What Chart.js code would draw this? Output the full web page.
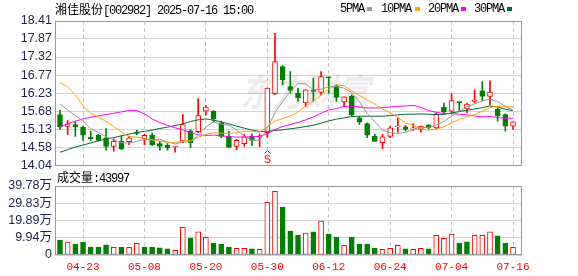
<!DOCTYPE html>
<html>
<head>
<meta charset="utf-8">
<script src="https://cdn.jsdelivr.net/npm/chart.js@4.4.1/dist/chart.umd.min.js"></script>
<style>
  html, body { margin: 0; padding: 0; background: #fff; }
  #box { position: relative; width: 578px; height: 276px; overflow: hidden; }
  #box canvas { position: absolute; left: 0; top: 0; }
  .t { position: absolute; white-space: nowrap; font: 12px/14px "Liberation Mono", monospace; letter-spacing: -1.2px; color: #000; }
  .t .c { font-family: "Noto Sans CJK SC", sans-serif; letter-spacing: 0; }
  .sq { position: absolute; width: 5px; height: 4px; }
</style>
</head>
<body>
<div id="box">
  <canvas id="kline" width="578" height="276"></canvas>
  <canvas id="vol" width="578" height="276"></canvas>
  <div class="t" style="left:55px;top:2px"><span class="c">湘佳股份</span>[002982] 2025-07-16 15:00</div>
  <div class="t" style="left:340px;top:2px">5PMA</div><div class="sq" style="left:367px;top:7px;background:#999999"></div>
  <div class="t" style="left:381px;top:2px">10PMA</div><div class="sq" style="left:415px;top:7px;background:#ffa500"></div>
  <div class="t" style="left:428px;top:2px">20PMA</div><div class="sq" style="left:461px;top:7px;background:#ff00ff"></div>
  <div class="t" style="left:474px;top:2px">30PMA</div><div class="sq" style="left:507px;top:7px;background:#006a30"></div>
  <div class="t" style="left:57px;top:170px"><span class="c">成交量</span>:43997</div>
</div>
<script>
// 日期 (交易日)
const dates = ['04-18','04-21','04-22','04-23','04-24','04-25','04-28','04-29','04-30','05-06',
  '05-07','05-08','05-09','05-12','05-13','05-14','05-15','05-16','05-19','05-20',
  '05-21','05-22','05-23','05-26','05-27','05-28','05-29','05-30','06-03','06-04',
  '06-05','06-06','06-09','06-10','06-11','06-12','06-13','06-16','06-17','06-18',
  '06-19','06-20','06-23','06-24','06-25','06-26','06-27','06-30','07-01','07-02',
  '07-03','07-04','07-07','07-08','07-09','07-10','07-11','07-14','07-15','07-16'];

// K线数据
const opens = [15.58,15.22,15.28,15.20,14.90,14.95,14.88,14.62,14.77,14.76,
  15.05,14.85,14.95,14.70,14.65,14.60,14.78,15.08,15.06,15.68,
  15.68,15.33,14.92,14.62,14.70,14.93,14.90,15.03,16.21,17.03,
  16.43,16.23,15.93,16.30,16.25,16.72,16.45,15.96,16.13,15.48,
  15.31,14.92,14.73,14.92,15.21,15.21,15.15,15.13,15.26,15.18,
  15.80,15.68,15.96,15.75,15.98,16.30,16.13,15.75,15.58,15.23];
const highs = [15.71,15.40,15.36,15.23,15.08,14.98,15.16,14.85,14.93,14.93,
  15.10,14.98,15.03,14.77,14.70,14.62,15.58,15.13,16.06,15.85,
  15.70,15.38,15.08,14.83,14.98,15.00,14.99,16.38,18.04,17.06,
  16.88,16.38,16.33,16.68,16.88,16.72,16.48,16.12,16.18,15.53,
  15.33,14.98,14.98,15.23,15.48,15.25,15.31,15.23,15.28,15.63,
  15.93,16.21,15.96,15.93,16.33,16.58,16.60,15.78,15.60,15.36];
const lows = [15.13,14.98,14.92,14.80,14.80,14.77,14.50,14.47,14.52,14.67,
  14.97,14.67,14.64,14.50,14.50,14.44,14.73,14.58,15.03,15.56,
  15.36,14.88,14.59,14.52,14.62,14.65,14.61,14.89,16.18,16.48,
  16.23,15.98,15.81,15.98,16.18,16.23,15.98,15.83,15.53,15.28,
  14.88,14.77,14.55,14.88,15.05,15.08,15.10,15.05,15.15,15.15,
  15.58,15.63,15.68,15.63,15.93,16.00,15.88,15.38,15.08,15.13];
const closes = [15.20,15.30,15.21,14.96,14.85,14.80,14.62,14.77,14.55,14.88,
  15.01,14.95,14.67,14.62,14.57,14.62,15.28,14.73,15.55,15.81,
  15.45,14.92,14.59,14.80,14.91,14.80,14.92,16.38,17.18,16.63,
  16.31,16.08,16.33,16.28,16.73,16.69,16.10,16.12,15.58,15.35,
  14.96,14.77,14.91,15.18,15.23,15.13,15.18,15.23,15.18,15.60,
  15.66,16.00,15.94,15.90,16.00,16.13,16.26,15.55,15.23,15.36];

// 成交量 (万)
const volumes = [8.65,7.5,6.3,7.5,4.6,4.6,5.8,4.4,4.6,4.4,
  6.7,4.6,4.6,4.2,3.5,2.7,16.0,9.8,13.3,10.2,
  6.9,6.3,4.6,3.8,3.8,3.5,3.3,30.4,36.7,27.6,
  13.8,11.5,12.6,13.3,19.5,12.1,10.4,5.6,10.4,6.3,
  6.3,4.0,3.3,3.9,5.6,3.5,3.3,3.8,3.5,11.3,
  9.6,12.0,6.9,7.6,11.3,11.3,13.3,11.0,6.9,4.40];

// 均线
const ma5 = [15.90,15.72,15.55,15.38,15.15,15.04,14.91,14.82,14.73,14.72,
  14.77,14.83,14.81,14.83,14.76,14.69,14.75,14.76,14.95,15.20,
  15.36,15.29,15.26,15.11,14.93,14.80,14.80,15.16,15.64,15.98,
  16.28,16.52,16.51,16.33,16.35,16.42,16.43,16.38,16.24,15.97,
  15.62,15.36,15.11,15.03,15.01,15.04,15.13,15.19,15.19,15.26,
  15.37,15.53,15.68,15.82,15.90,15.99,16.05,15.97,15.83,15.71];
const ma10 = [16.55,16.42,16.18,15.85,15.62,15.50,15.37,15.22,15.05,14.91,
  14.90,14.86,14.81,14.78,14.74,14.73,14.79,14.79,14.89,14.98,
  15.03,15.02,15.01,15.03,15.07,15.08,15.05,15.21,15.38,15.46,
  15.54,15.66,15.84,15.99,16.17,16.35,16.48,16.45,16.29,16.16,
  16.02,15.90,15.75,15.64,15.49,15.33,15.25,15.15,15.11,15.14,
  15.21,15.33,15.44,15.51,15.58,15.68,15.79,15.83,15.83,15.81];
const ma20 = [15.20,15.30,15.38,15.45,15.50,15.54,15.58,15.62,15.66,15.71,
  15.70,15.60,15.45,15.34,15.25,15.18,15.12,15.03,14.97,14.95,
  14.96,14.94,14.91,14.90,14.90,14.91,14.92,15.00,15.13,15.22,
  15.28,15.34,15.42,15.51,15.62,15.72,15.76,15.83,15.83,15.81,
  15.78,15.78,15.79,15.81,15.83,15.84,15.86,15.80,15.70,15.65,
  15.61,15.61,15.59,15.57,15.54,15.51,15.52,15.49,15.47,15.47];
const ma30 = [14.44,14.52,14.60,14.66,14.72,14.79,14.84,14.88,14.94,14.99,
  15.04,15.07,15.11,15.16,15.20,15.25,15.30,15.37,15.42,15.45,
  15.41,15.36,15.30,15.23,15.17,15.11,15.07,15.07,15.10,15.12,
  15.15,15.18,15.22,15.26,15.32,15.39,15.44,15.48,15.52,15.53,
  15.53,15.53,15.53,15.55,15.57,15.59,15.59,15.60,15.59,15.58,
  15.59,15.63,15.67,15.71,15.75,15.79,15.84,15.81,15.74,15.70];

// 刻度
const priceTicks = [14.04, 14.58, 15.13, 15.68, 16.23, 16.77, 17.32, 17.87, 18.41];
const volTicks = [0, 9.94, 19.89, 29.83, 39.78];
const dateTicks = ['04-23','05-08','05-20','05-30','06-12','06-24','07-04','07-16'];
const signalDate = '05-30';
const signalText = 'S';

const RED = '#ff0000';
const GREEN = '#008000';
const xMin = -0.65, xMax = 60.17;

const idx = dates.map((d, i) => i);
const tickIdx = dateTicks.map(d => dates.indexOf(d));
const candleUp = idx.map(i => closes[i] >= opens[i]);
const volUp = idx.map(i => i === 0 ? candleUp[0] : closes[i] >= closes[i - 1]);

function xAxis(showLabels) {
    return {
        type: 'linear', min: xMin, max: xMax, offset: false,
        afterBuildTicks: s => { s.ticks = tickIdx.map(v => ({ value: v })); },
        grid: { color: '#c8c8c8', drawTicks: false, offset: false },
        border: { display: false, dash: [4, 3] },
        ticks: {
            display: showLabels, autoSkip: false, maxRotation: 0, padding: 5,
            color: RED, font: { family: '"Liberation Mono", monospace', size: 11 },
            callback: v => dates[v]
        },
        afterFit: s => { s.height = showLabels ? 21 : 0; }
    };
}

function yAxis(min, max, ticks, fmt) {
    return {
        type: 'linear', min: min, max: max,
        afterBuildTicks: s => { s.ticks = ticks.map(v => ({ value: v })); },
        grid: { color: '#d4d4d4', drawTicks: false },
        border: { display: false },
        ticks: {
            autoSkip: false, padding: 3, color: '#1e2448',
            font: { family: '"Liberation Sans", "Noto Sans CJK SC", sans-serif', size: 12.5 },
            callback: fmt
        },
        afterFit: s => { s.width = 55; }
    };
}

// 边框
const frame = {
    id: 'frame',
    afterDraw(chart) {
        const a = chart.chartArea, ctx = chart.ctx;
        ctx.save();
        ctx.strokeStyle = '#9a9a9a';
        ctx.lineWidth = 1;
        ctx.strokeRect(Math.round(a.left) + 0.5, Math.round(a.top) + 0.5,
            Math.round(a.right - a.left) - 1, Math.round(a.bottom - a.top) - 1);
        ctx.restore();
    }
};

// 水印
const watermark = {
    id: 'watermark',
    beforeDatasetsDraw(chart) {
        const ctx = chart.ctx;
        ctx.save();
        ctx.fillStyle = 'rgba(0,0,0,0.07)';
        ctx.font = 'italic bold 37px "Noto Sans CJK SC"';
        ctx.textBaseline = 'middle';
        ctx.translate(240, 92);
        ctx.scale(0.88, 1);
        ctx.fillText('东方财富', 0, 0);
        ctx.restore();
    }
};

// 买卖信号
const signal = {
    id: 'signal',
    afterDatasetsDraw(chart) {
        const i = dates.indexOf(signalDate);
        const x = Math.round(chart.scales.x.getPixelForValue(i)) + 0.5;
        const b = chart.chartArea.bottom;
        const ctx = chart.ctx;
        ctx.save();
        ctx.strokeStyle = RED;
        ctx.fillStyle = RED;
        ctx.lineWidth = 1;
        ctx.beginPath();
        ctx.moveTo(x - 3, b - 12);
        ctx.lineTo(x, b - 15);
        ctx.lineTo(x + 3, b - 12);
        ctx.stroke();
        ctx.font = '11px "Liberation Sans"';
        ctx.textAlign = 'center';
        ctx.textBaseline = 'middle';
        ctx.fillText(signalText, x, b - 6);
        ctx.restore();
    }
};

function maLine(values, color) {
    return {
        type: 'line', data: idx.map(i => ({ x: i, y: values[i] })),
        borderColor: color, borderWidth: 1, pointRadius: 0, tension: 0, order: 1
    };
}

new Chart(document.getElementById('kline'), {
    type: 'bar',
    data: {
        datasets: [
            {
                data: idx.map(i => ({ x: i, y: [lows[i], highs[i]] })),
                backgroundColor: candleUp.map(u => u ? RED : GREEN),
                borderWidth: 0, barThickness: 1, grouped: false, order: 3
            },
            {
                data: idx.map(i => ({ x: i, y: [opens[i], closes[i]] })),
                backgroundColor: candleUp.map(u => u ? '#ffffff' : GREEN),
                borderColor: candleUp.map(u => u ? RED : GREEN),
                borderWidth: 1, borderSkipped: false, minBarLength: 1,
                barThickness: 5, grouped: false, order: 2
            },
            maLine(ma5, '#999999'),
            maLine(ma10, '#ffa500'),
            maLine(ma20, '#ff00ff'),
            maLine(ma30, '#006a30')
        ]
    },
    options: {
        responsive: false, animation: false, devicePixelRatio: 1,
        layout: { padding: { top: 21, bottom: 110.5, left: 0, right: 56 } },
        plugins: { legend: { display: false }, tooltip: { enabled: false } },
        scales: {
            x: xAxis(false),
            y: yAxis(14.04, 18.41, priceTicks, v => v.toFixed(2))
        }
    },
    plugins: [watermark, signal, frame]
});

new Chart(document.getElementById('vol'), {
    type: 'bar',
    data: {
        datasets: [{
            data: idx.map(i => ({ x: i, y: volumes[i] })),
            backgroundColor: volUp.map(u => u ? '#ffffff' : GREEN),
            borderColor: volUp.map(u => u ? RED : GREEN),
            borderWidth: 1, borderSkipped: false, barThickness: 5, grouped: false
        }]
    },
    options: {
        responsive: false, animation: false, devicePixelRatio: 1,
        layout: { padding: { top: 186, bottom: 0, left: 0, right: 56 } },
        plugins: { legend: { display: false }, tooltip: { enabled: false } },
        scales: {
            x: xAxis(true),
            y: yAxis(0, 39.78, volTicks, v => v === 0 ? '0' : v.toFixed(2) + '万')
        }
    },
    plugins: [frame]
});
</script>
</body>
</html>
